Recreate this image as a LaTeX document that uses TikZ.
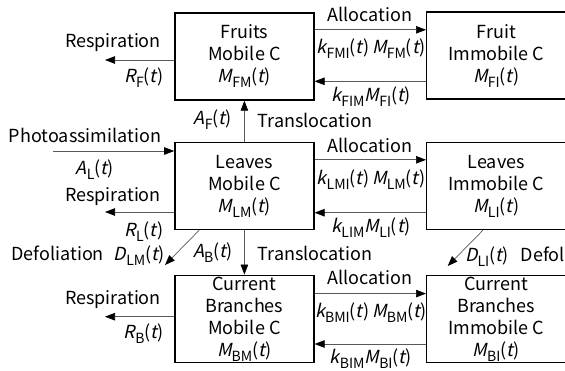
\documentclass[tikz,border=0pt]{standalone}
\usepackage{fontspec}
\setmainfont{Noto Sans CJK JP}[AutoFakeSlant=0.22]
\usetikzlibrary{arrows.meta,calc}
% italic variable, lowered subscript, function of time
\newcommand\vi[1]{{\itshape #1}}
\newcommand\sbs[1]{\raisebox{-0.28em}{\scalebox{0.78}{#1}}}
\newcommand\fn[2]{\vi{#1}\sbs{#2}(\vi{t}\kern0.5pt)}
\begin{document}
\begin{tikzpicture}[x=1pt,y=-1pt,
  every node/.style={inner sep=0pt,font=\fontsize{18}{22}\selectfont},
  pool/.style={draw,line width=1.4pt,minimum width=139pt,minimum height=87pt,align=center},
  flow/.style={draw=black!65,line width=0.7pt,-{Triangle[length=10pt,width=7.5pt,black]}}]
\useasboundingbox (0,0) rectangle (565,370);
\clip (0,0) rectangle (565,370);

% carbon pools
\node[pool] (fm) at (244.4,56.5) {Fruits\\Mobile C\\\fn{M}{FM}};
\node[pool] (lm) at (244.4,186) {Leaves\\Mobile C\\\fn{M}{LM}};
\node[pool] (bm) at (244.4,318.8) {Current\\Branches\\Mobile C\\\fn{M}{BM}};
\node[pool] (fi) at (496.2,55.6) {Fruit\\Immobile C\\\fn{M}{FI}};
\node[pool] (li) at (496.2,186) {Leaves\\Immobile C\\\fn{M}{LI}};
\node[pool] (bi) at (496.2,318.8) {Current\\Branches\\Immobile C\\\fn{M}{BI}};

% free ends of the outer flows
\coordinate (rfEnd) at (105,60);
\coordinate (rlEnd) at (105,212);
\coordinate (rbEnd) at (105,316.7);
\coordinate (phStart) at (53,151);
\coordinate (dlmEnd) at (165,265);
\coordinate (dliEnd) at (447.7,266);

% heights of the exchange flows
\coordinate (aF) at ($(fm.north east)+(0,17.5)$);
\coordinate (bF) at ($(fi.south west)+(0,-18.5)$);
\coordinate (aL) at ($(lm.north east)+(0,18)$);
\coordinate (bL) at ($(li.south west)+(0,-17.5)$);
\coordinate (aB) at ($(bm.north east)+(0,19)$);
\coordinate (bB) at ($(bi.south west)+(0,-19)$);

% respiration and photoassimilation
\draw[flow] (fm.west |- rfEnd) -- (rfEnd);
\draw[flow] (lm.west |- rlEnd) -- (rlEnd);
\draw[flow] (bm.west |- rbEnd) -- (rbEnd);
\draw[flow] (phStart) -- (lm.west |- phStart);

% defoliation
\draw[flow] ($(lm.south west)+(25,0)$) -- (dlmEnd);
\draw[flow] ($(li.south west)+(57,0)$) -- (dliEnd);

% translocation
\draw[flow] (lm.north) -- (fm.south);
\draw[flow] (lm.south) -- (bm.north);

% allocation and remobilisation
\draw[flow] (aF) -- (aF -| fi.west);
\draw[flow] (bF) -- (bF -| fm.east);
\draw[flow] (aL) -- (aL -| li.west);
\draw[flow] (bL) -- (bL -| lm.east);
\draw[flow] (aB) -- (aB -| bi.west);
\draw[flow] (bB) -- (bB -| bm.east);

% flow labels
\node (tResF) at (113,43) {Respiration};
\node (tRF) at (144,78) {\fn{R}{F}};
\node (tPh) at (85,135) {Photoassimilation};
\node (tAL) at (95,170) {\fn{A}{L}};
\node (tAF) at (213,120) {\fn{A}{F}};
\node (tTrU) at (315,120) {Translocation};
\node (tAlF) at (370,14) {Allocation};
\node (tkFMI) at (371,49) {\vi{k}\sbs{FMI}(\vi{t}\kern0.5pt)\,\fn{M}{FM}};
\node (tkFIM) at (371,97) {\vi{k}\sbs{FIM}\fn{M}{FI}};
\node (tAlL) at (370,145) {Allocation};
\node (tkLMI) at (371,180) {\vi{k}\sbs{LMI}(\vi{t}\kern0.5pt)\,\fn{M}{LM}};
\node (tkLIM) at (371,228) {\vi{k}\sbs{LIM}\fn{M}{LI}};
\node (tResL) at (113,197) {Respiration};
\node (tRL) at (144,232) {\fn{R}{L}};
\node[anchor=east] (tDLM) at (165,256) {Defoliation\hspace{10pt}\fn{D}{LM}};
\node (tAB) at (213,253) {\fn{A}{B}};
\node (tTrL) at (315,253) {Translocation};
\node[anchor=west] (tDLI) at (465,257) {\fn{D}{LI}\hspace{12pt}Defoliation};
\node (tAlB) at (370,277) {Allocation};
\node (tkBMI) at (371,313) {\vi{k}\sbs{BMI}(\vi{t}\kern0.5pt)\,\fn{M}{BM}};
\node (tkBIM) at (371,359) {\vi{k}\sbs{BIM}\fn{M}{BI}};
\node (tResB) at (113,300) {Respiration};
\node (tRB) at (144,334) {\fn{R}{B}};
\end{tikzpicture}
\end{document}
